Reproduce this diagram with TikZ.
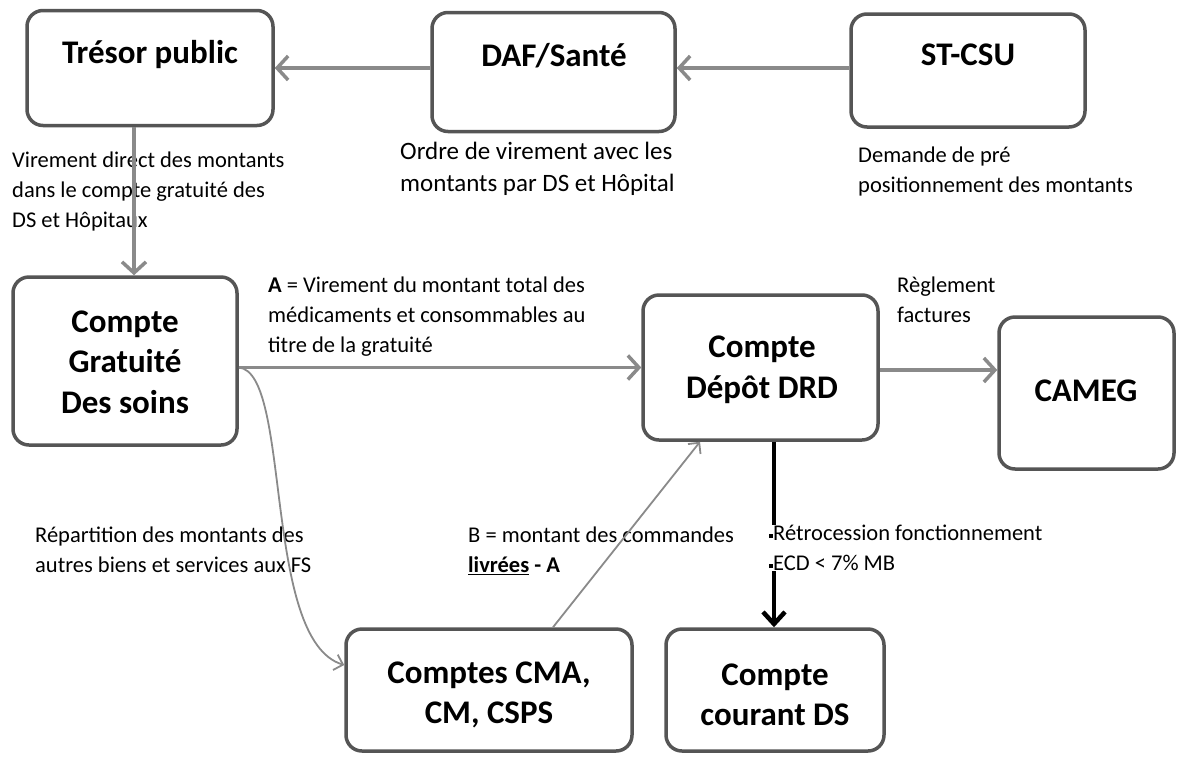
\documentclass[tikz,border=0pt]{standalone}
\usepackage{fontspec}
\setmainfont{Carlito}
\usetikzlibrary{arrows.meta}
\definecolor{boxgray}{HTML}{555555}
\definecolor{arrgray}{HTML}{8A8A8A}
\tikzset{
  box/.style={draw=boxgray, line width=3.5pt, rounded corners=16pt, fill=white, inner sep=0pt},
  boxtext/.style={font=\fontsize{#1}{40.5}\selectfont\bfseries, align=center, inner sep=0pt},
  lbl/.style={font=\fontsize{22.5}{30}\selectfont, align=left, anchor=north west, inner sep=0pt},
  garrow/.style={draw=arrgray, line width=3.5pt, -{Straight Barb[length=11pt, width=24pt]}},
  thinarrow/.style={draw=arrgray, line width=1.8pt, -{Straight Barb[length=8pt, width=16pt]}},
  blackarrow/.style={draw=black, line width=4.5pt, -{Straight Barb[length=12pt, width=22pt]}}
}
\begin{document}
\begin{tikzpicture}[x=1pt, y=-1pt]
\useasboundingbox (0,0) rectangle (1183,756);
% labels (under the lines)
\node[lbl] (l1) at (12,152) {Virement direct des montants\\dans le compte gratuité des\\DS et Hôpitaux};
\node[lbl, font=\fontsize{25}{32}\selectfont] (l2) at (400,142) {Ordre de virement avec les\\montants par DS et Hôpital};
\node[lbl] (l3) at (858,147) {Demande de pré\\positionnement des montants};
\node[lbl] (l4) at (268,277) {\textbf{A} = Virement du montant total des\\médicaments et consommables au\\titre de la gratuité};
\node[lbl] (l5) at (897,277) {Règlement\\factures};
\node[lbl] (l6) at (35,527) {Répartition des montants des\\autres biens et services aux FS};
\node[lbl] (l7) at (468,527) {B = montant des commandes\\\underline{\textbf{livrées}} \textbf{- A}};
% boxes
\node[box, minimum width=246pt, minimum height=115pt] (tresor) at (150,68) {};
\node[box, minimum width=243pt, minimum height=119pt] (daf) at (553.5,72) {};
\node[box, minimum width=234pt, minimum height=113pt] (stcsu) at (968,70.5) {};
\node[box, minimum width=224pt, minimum height=168pt] (grat) at (125,361) {};
\node[box, minimum width=235pt, minimum height=145pt] (depot) at (760.5,367.5) {};
\node[box, minimum width=175pt, minimum height=152pt] (cameg) at (1086.5,393) {};
\node[box, minimum width=286pt, minimum height=122pt] (cma) at (489,690) {};
\node[box, minimum width=218pt, minimum height=122pt] (courant) at (775,690) {};
% box texts
\node[boxtext=33] (tresorT) at (150,55) {Trésor public};
\node[boxtext=33] (dafT) at (554,56) {DAF/Santé};
\node[boxtext=33] (stcsuT) at (968,55) {ST-CSU};
\node[boxtext=33] (gratT) at (125,362) {Compte\\Gratuité\\Des soins};
\node[boxtext=33] (depotT) at (762,370) {Compte\\Dépôt DRD};
\node[boxtext=33] (camegT) at (1086,391) {CAMEG};
\node[boxtext=33] (cmaT) at (489,695) {Comptes CMA,\\CM, CSPS};
\node[boxtext=33] (courantT) at (775,695) {Compte\\courant DS};
% connectors
\coordinate (vx) at (134,0);
\coordinate (cy) at (0,665);
\coordinate (dx1) at (553,0);
\coordinate (dx2) at (700,0);
\coordinate (bx) at (774,0);
\draw[garrow] (stcsu.west |- tresor.east) -- (daf.east |- tresor.east);
\draw[garrow] (daf.west |- tresor.east) -- (tresor.east);
\draw[garrow] (tresor.south -| vx) -- (grat.north -| vx);
\draw[garrow] (grat.east |- depot.west) -- (depot.west);
\draw[garrow] (depot.east |- 0,370) -- (cameg.west |- 0,370);
\draw[thinarrow] (grat.east |- depot.west) .. controls (292,372) and (262,640) .. (cma.west |- cy);
\draw[thinarrow] (cma.north -| dx1) -- (depot.south -| dx2);
\draw[blackarrow] (depot.south -| bx) -- (courant.north -| bx);
\node[lbl, fill=white, inner sep=0pt] (l8) at (769,525) {\rule[0.25ex]{4pt}{4pt}Rétrocession fonctionnement\\\rule[0.25ex]{4pt}{4pt}ECD < 7\% MB};
\end{tikzpicture}
\end{document}
